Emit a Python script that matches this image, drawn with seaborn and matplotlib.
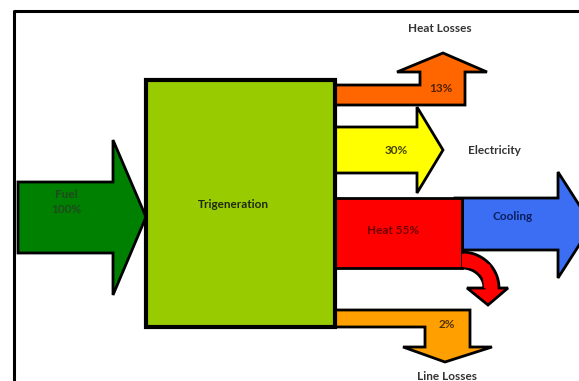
import numpy as np
import matplotlib
matplotlib.use("Agg")
import matplotlib.pyplot as plt
import seaborn as sns
from matplotlib.patches import Polygon, Rectangle

sns.set_style("white")
plt.rcParams['font.family'] = ['Lato', 'DejaVu Sans']

# data
flows = ["Fuel", "Heat Losses", "Electricity", "Heat", "Line Losses"]
percent = [100, 13, 30, 55, 2]
node_label = "Trigeneration"
cooling_label = "Cooling"

fig = plt.figure(figsize=(5.79, 3.81), dpi=100)
ax = fig.add_axes([0, 0, 1, 1])
ax.set_xlim(0, 579)
ax.set_ylim(381, 0)
ax.axis("off")

lw = 2.0
def poly(pts, fc, z=2, lw=lw):
    ax.add_patch(Polygon(pts, closed=True, fc=fc, ec="black", lw=lw, joinstyle="miter", zorder=z))

# frame
ax.plot([14, 14, 579], [381, 11, 11], color="black", lw=2.2, zorder=1)

# Fuel arrow
poly([(18, 182), (113, 182), (113, 140), (146, 217), (113, 295), (113, 253), (18, 253)], "#008000")

# Heat losses (up arrow)
poly([(330, 85), (420, 85), (420, 72), (397, 72), (443, 53), (487, 72), (465, 72), (465, 105), (330, 105)], "#FF6600")

# Electricity
poly([(330, 127), (417, 127), (417, 107), (443, 150), (417, 193), (417, 173), (330, 173)], "#FFFF00")

# Cooling
poly([(455, 198), (558, 198), (558, 172), (592, 225), (558, 278), (558, 250), (455, 250)], "#3B6EF2")

# Heat curved arrow
th = np.linspace(np.pi / 2, 0, 20)
cx, cy = 462, 288
outer = [(cx + 37 * np.cos(t), cy - 36 * np.sin(t)) for t in th]
inner = [(cx + 22 * np.cos(t), cy - 20 * np.sin(t)) for t in th[::-1]]
curve = outer + [(508, 288), (488, 305), (467, 288)] + inner
poly(curve, "#FF0000", z=2)
# Heat band
poly([(330, 198), (462, 198), (462, 268), (330, 268)], "#FF0000", z=3)
ax.add_patch(Polygon([(462, 253), (462, 267), (482, 270), (484, 288), (497, 288), (490, 265)],
                     closed=True, fc="#FF0000", ec="none", zorder=3.5))
ax.plot([462, 462], [198, 252], color="black", lw=lw, zorder=3.6)

# Line losses (down arrow)
poly([(330, 310), (470, 310), (470, 347), (492, 347), (445, 362), (403, 347), (425, 347), (425, 327), (330, 327)], "#FFA000")

# Trigeneration box
ax.add_patch(Rectangle((146, 80), 189, 247, fc="#99CC00", ec="black", lw=3, zorder=5))

tk = dict(fontweight="bold", fontsize=8.5, ha="center", va="center", zorder=6)
ax.text(66, 202, f"{flows[0]}\n{percent[0]}%", color="#1F4A1F", linespacing=1.5, **tk)
ax.text(233, 204, node_label, color="#1E2A10", **tk)
ax.text(440, 29, flows[1], color="#333333", **tk)
ax.text(441, 89, f"{percent[1]}%", color="#552200", **tk)
ax.text(396, 150, f"{percent[2]}%", color="#444400", **tk)
ax.text(494, 150, flows[2], color="#333333", **tk)
ax.text(393, 231, f"{flows[3]} {percent[3]}%", color="#700000", **tk)
ax.text(513, 217, cooling_label, color="#0B1F5E", **tk)
ax.text(447, 325, f"{percent[4]}%", color="#553300", **tk)
ax.text(447, 377, flows[4], color="#333333", **tk)

fig.savefig("out.png", dpi=100)
